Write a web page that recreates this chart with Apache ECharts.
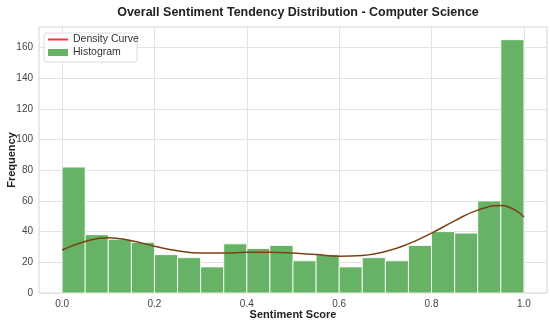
<!DOCTYPE html>
<html>
<head>
<meta charset="utf-8">
<script src="https://cdn.jsdelivr.net/npm/echarts@6/dist/echarts.min.js"></script>
<style>html,body{margin:0;padding:0;background:#fff}#c{width:550px;height:324px}</style>
</head>
<body>
<div id="c"></div>
<script>
// Histogram bins (left/right edges) and counts
const binLeft  = [0.00,0.05,0.10,0.15,0.20,0.25,0.30,0.35,0.40,0.45,0.50,0.55,0.60,0.65,0.70,0.75,0.80,0.85,0.90,0.95];
const binRight = [0.05,0.10,0.15,0.20,0.25,0.30,0.35,0.40,0.45,0.50,0.55,0.60,0.65,0.70,0.75,0.80,0.85,0.90,0.95,1.00];
const counts   = [82,38,35,33,25,23,17,32,29,31,21,25,17,23,21,31,40,39,60,165];
// Density curve (scaled to counts)
const kdeX = [0.00,0.05,0.10,0.15,0.20,0.25,0.30,0.35,0.40,0.45,0.50,0.55,0.60,0.65,0.70,0.75,0.80,0.85,0.90,0.95,1.00];
const kdeY = [28,33.5,36,34,30.5,27.5,26,26,26.5,26.5,26,25,24,24.5,27,32,39,47,54,57,49.5];
// Tick labels
const xTicks = [0.0,0.2,0.4,0.6,0.8,1.0];
const yTicks = [0,20,40,60,80,100,120,140,160];

const histData = binLeft.map((l,i)=>[l, binRight[i], counts[i]]);
const kdeData = kdeX.map((x,i)=>[x, kdeY[i]]);

const chart = echarts.init(document.getElementById('c'), null, {renderer:'canvas'});
const FONT = 'Liberation Sans, Arial, sans-serif';
chart.setOption({
  animation:false,
  backgroundColor:'#fff',
  title:{text:'Overall Sentiment Tendency Distribution - Computer Science', left:293, textAlign:'center', top:1,
    textStyle:{fontFamily:FONT, fontSize:12.5, fontWeight:'bold', color:'#222'}},
  grid:{left:39, right:3, top:27, bottom:31, show:true, borderColor:'#d4d4d4', borderWidth:1, outerBoundsMode:'none', containLabel:false},
  graphic:[{type:'rect', z:5, shape:{x:44, y:33, width:93, height:29, r:3}, style:{fill:'rgba(255,255,255,0.85)', stroke:'#dcdcdc', lineWidth:1}}],
  legend:[
    {left:48, top:34, padding:0, itemWidth:20, itemHeight:2, z:6, textStyle:{fontFamily:FONT, fontSize:10.5, color:'#333'},
     data:[{name:'Density Curve', icon:'rect', itemStyle:{color:'#ff3044'}}]},
    {left:48, top:47, padding:0, itemWidth:20, itemHeight:7, z:6, textStyle:{fontFamily:FONT, fontSize:10.5, color:'#333'},
     data:[{name:'Histogram', icon:'rect', itemStyle:{color:'#66b366'}}]}
  ],
  xAxis:{type:'value', min:-0.05, max:1.05,
    name:'Sentiment Score', nameLocation:'middle', nameGap:16, nameMoveOverlap:false,
    nameTextStyle:{fontFamily:FONT, fontSize:11, fontWeight:'bold', color:'#222'},
    axisLine:{show:false}, axisTick:{show:false, customValues:xTicks},
    axisLabel:{customValues:xTicks, formatter:v=>v.toFixed(1), fontFamily:FONT, fontSize:10, color:'#444', margin:6},
    splitLine:{show:true, lineStyle:{color:'#e2e2e2', width:1}}},
  yAxis:{type:'value', min:0, max:173.25,
    name:'Frequency', nameLocation:'middle', nameGap:22, nameMoveOverlap:false,
    nameTextStyle:{fontFamily:FONT, fontSize:11, fontWeight:'bold', color:'#222'},
    axisLine:{show:false}, axisTick:{show:false, customValues:yTicks},
    axisLabel:{customValues:yTicks, fontFamily:FONT, fontSize:10, color:'#444', margin:6},
    splitLine:{show:true, lineStyle:{color:'#e2e2e2', width:1}}},
  series:[
    {name:'Histogram', type:'custom', data:histData, encode:{x:[0,1], y:2}, z:2,
     itemStyle:{color:'#66b366'},
     renderItem:function(params, api){
       const p0 = api.coord([api.value(0), api.value(2)]);
       const p1 = api.coord([api.value(1), 0]);
       return {type:'rect', shape:{x:p0[0], y:p0[1], width:p1[0]-p0[0], height:p1[1]-p0[1]},
         style:{fill:'#66b366', stroke:'rgba(255,255,255,0.85)', lineWidth:1}};
     }},
    {name:'Density Curve', type:'line', data:kdeData, smooth:0.5, showSymbol:false, z:3,
     lineStyle:{color:'#7a4214', width:1.5}, itemStyle:{color:'#7a4214'}}
  ]
});
</script>
</body>
</html>
